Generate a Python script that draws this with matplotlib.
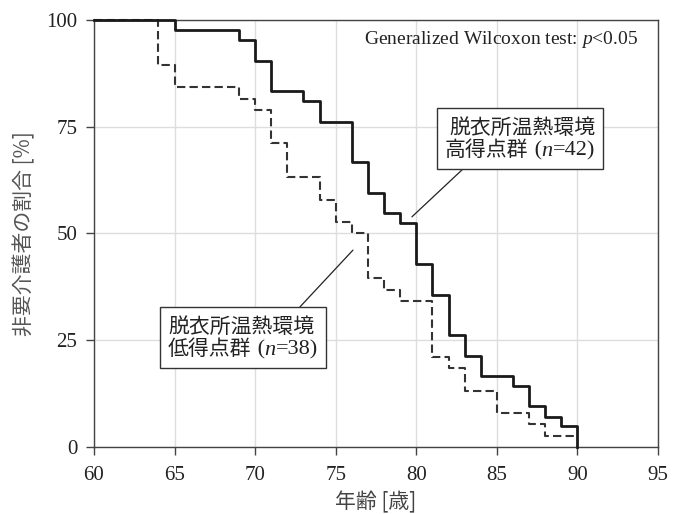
# survival curves by bathroom thermal environment score
import matplotlib
matplotlib.use('Agg')
import matplotlib.pyplot as plt
from matplotlib.offsetbox import TextArea, HPacker, VPacker, AnnotationBbox

plt.rcParams['font.family'] = ['Liberation Serif', 'Noto Sans CJK JP']
plt.rcParams['mathtext.fontset'] = 'custom'
plt.rcParams['mathtext.rm'] = 'Liberation Serif'
plt.rcParams['mathtext.it'] = 'Liberation Serif:italic'

# high score group (n=42), solid
high_age = [60, 65, 69, 70, 71, 73, 74, 76, 77, 78, 79, 80, 81, 82, 83, 84, 86, 87, 88, 89, 90]
high_pct = [100, 97.6, 95.2, 90.5, 83.3, 81.0, 76.2, 66.7, 59.5, 54.8, 52.4, 42.9,
            35.7, 26.2, 21.4, 16.7, 14.3, 9.5, 7.1, 4.8, 0]
# low score group (n=38), dashed
low_age = [60, 64, 65, 69, 70, 71, 72, 74, 75, 76, 77, 78, 79, 81, 82, 83, 85, 87, 88, 90]
low_pct = [100, 89.5, 84.2, 81.6, 78.9, 71.1, 63.2, 57.9, 52.6, 50.0, 39.5, 36.8,
           34.2, 21.1, 18.4, 13.2, 7.9, 5.3, 2.6, 2.6]

x_ticks = [60, 65, 70, 75, 80, 85, 90, 95]
y_ticks = [0, 25, 50, 75, 100]

fig = plt.figure(figsize=(6.78, 5.14), dpi=100)
ax = fig.add_axes([0.1386, 0.1304, 0.8319, 0.8307])

ax.step(low_age, low_pct, where='post', color='#333333', lw=1.5,
        linestyle=(0, (4, 2)), clip_on=False, zorder=3)
ax.step(high_age, high_pct, where='post', color='#1a1a1a', lw=2.0,
        clip_on=False, zorder=4)

ax.set_xlim(60, 95)
ax.set_ylim(0, 100)
ax.set_xticks(x_ticks)
ax.set_yticks(y_ticks)
ax.grid(True, color='#dddddd', lw=1)
ax.set_axisbelow(True)
for s in ax.spines.values():
    s.set_color('#444444')
    s.set_linewidth(1)
ax.tick_params(direction='out', length=6, width=1, color='#444444',
               labelsize=15, labelcolor='#222222', pad=6)
ax.tick_params(axis='x', pad=8)

ax.set_xlabel('年齢 [歳]', fontsize=15, color='#444444', labelpad=4,
              family=['Noto Sans CJK JP', 'Liberation Serif'])
ax.set_ylabel('非要介護者の割合 [%]', fontsize=15, color='#555555', labelpad=8,
              family=['Noto Sans CJK JP', 'Liberation Serif'])

ax.text(0.965, 0.955, 'Generalized Wilcoxon test: $p$<0.05', transform=ax.transAxes,
        ha='right', va='center', fontsize=14, color='#222222')


def label_box(name, n, xybox, align):
    cjk = dict(family=['Noto Sans CJK JP'], fontsize=15, color='#222222')
    ser = dict(family=['Liberation Serif'], fontsize=16, color='#222222')
    ita = dict(family=['Liberation Serif'], fontsize=16, color='#222222', style='italic')
    line1 = TextArea('脱衣所温熱環境', textprops=cjk)
    line2 = HPacker(children=[TextArea(name, textprops=cjk),
                              TextArea(' (', textprops=ser),
                              TextArea('n', textprops=ita),
                              TextArea('=%d)' % n, textprops=ser)],
                    align='baseline', pad=0, sep=0)
    box = VPacker(children=[line1, line2], align=align, pad=0, sep=0)
    ab = AnnotationBbox(box, xybox, xycoords='data', box_alignment=(0.5, 0.5),
                        pad=0.6, frameon=True, zorder=6,
                        bboxprops=dict(edgecolor='#333333', facecolor='white', lw=1))
    ax.add_artist(ab)


label_box('高得点群', 42, (86.44, 72.2), 'right')
label_box('低得点群', 38, (69.25, 25.6), 'left')

ax.annotate('', xy=(79.73, 53.9), xytext=(82.84, 64.9),
            arrowprops=dict(arrowstyle='-', color='#222222', lw=0.9,
                            shrinkA=0, shrinkB=0), zorder=5)
ax.annotate('', xy=(76.07, 46.1), xytext=(72.78, 32.8),
            arrowprops=dict(arrowstyle='-', color='#222222', lw=0.9,
                            shrinkA=0, shrinkB=0), zorder=5)

fig.savefig('out.png', dpi=100)
